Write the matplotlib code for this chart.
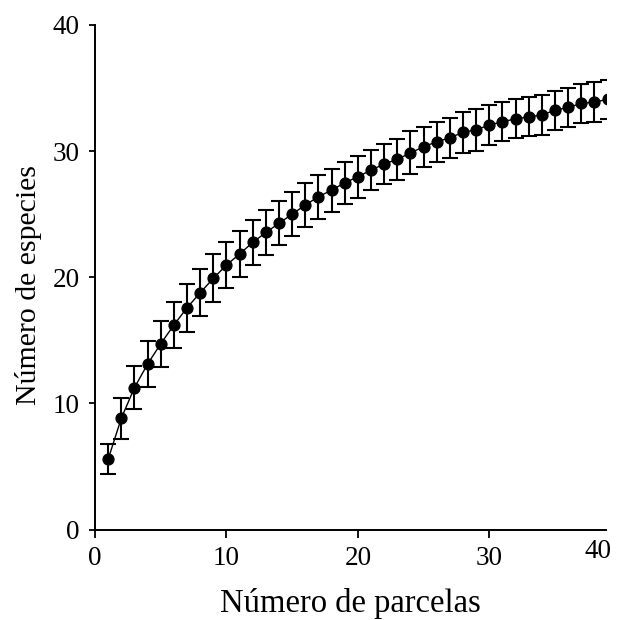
import matplotlib
matplotlib.use("Agg")
import matplotlib.pyplot as plt
import matplotlib.transforms as mtransforms

parcelas = list(range(1, 40))
especies = [5.58, 8.82, 11.25, 13.12, 14.73, 16.21, 17.58, 18.77, 19.91, 20.97,
            21.84, 22.76, 23.55, 24.27, 25.0, 25.72, 26.38, 26.9, 27.48, 27.96,
            28.49, 28.97, 29.34, 29.85, 30.34, 30.73, 31.05, 31.48, 31.68, 32.06,
            32.32, 32.55, 32.71, 32.85, 33.24, 33.45, 33.77, 33.88, 34.09]
error = [1.2, 1.6, 1.7, 1.8, 1.8, 1.8, 1.9, 1.85, 1.9, 1.8,
         1.85, 1.8, 1.8, 1.75, 1.75, 1.75, 1.75, 1.7, 1.65, 1.65,
         1.6, 1.6, 1.6, 1.7, 1.6, 1.6, 1.6, 1.6, 1.65, 1.6,
         1.55, 1.55, 1.55, 1.55, 1.55, 1.55, 1.55, 1.55, 1.55]
xticks = [0, 10, 20, 30]
yticks = [0, 10, 20, 30, 40]

plt.rcParams['font.family'] = ['Liberation Serif', 'DejaVu Serif']

fig = plt.figure(figsize=(6.2, 6.2), dpi=100)
ax = fig.add_axes([0.1532, 0.1456, 0.977 - 0.1532, 0.960 - 0.1456])

ax.errorbar(parcelas, especies, yerr=error, fmt='o', color='black',
            ms=7.8, lw=0, elinewidth=1.5, capsize=5.5, capthick=1.5, zorder=3)
ax.plot(parcelas, especies, color='black', lw=1.0, zorder=2)

ax.set_xlim(0, 38.86)
ax.set_ylim(0, 40)
ax.set_xticks(xticks)
ax.set_xticklabels([str(t) for t in xticks])
ax.set_yticks(yticks)
ax.set_yticklabels([str(t) for t in yticks])

for s in ['top', 'right']:
    ax.spines[s].set_visible(False)
for s in ['left', 'bottom']:
    ax.spines[s].set_linewidth(1.4)

ax.tick_params(axis='x', direction='out', length=5.5, width=1.3, pad=6.5, labelsize=19.5)
ax.tick_params(axis='y', direction='out', length=4.5, width=1.3, pad=6.5, labelsize=19.5)

# "40" label at the end of the x axis (raised, as in the original)
trans = mtransforms.blended_transform_factory(ax.transData, ax.transAxes)
ax.text(38.25, -0.018, '40', transform=trans, ha='center', va='top', fontsize=19.5)

ax.set_xlabel('Número de parcelas', fontsize=23.5, va='center')
ax.xaxis.set_label_coords(0.5, -0.147)
ax.set_ylabel('Número de especies', fontsize=21.5, va='center')
ax.yaxis.set_label_coords(-0.131, 0.485)

fig.savefig('out.png', dpi=100)
